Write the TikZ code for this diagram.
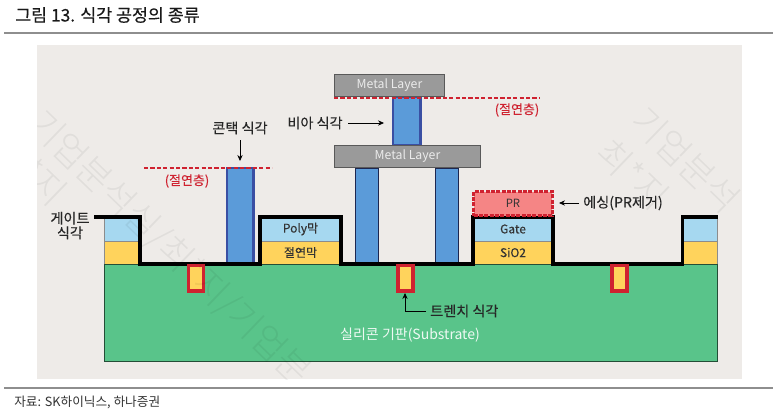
\documentclass[tikz,border=0pt]{standalone}
\usepackage{fontspec}
\setmainfont{Noto Sans CJK KR}
\newfontfamily\wmfont{Noto Sans CJK KR Light}
\newfontfamily\lblfont[FakeBold=0.25]{Noto Sans CJK KR}
\usetikzlibrary{arrows.meta}
\definecolor{panel}{HTML}{EEEBE8}
\definecolor{rulegray}{HTML}{8E8E8E}
\definecolor{subgreen}{HTML}{59C48A}
\definecolor{lightb}{HTML}{A6D8F0}
\definecolor{yel}{HTML}{FFD35C}
\definecolor{metal}{HTML}{9A9A9A}
\definecolor{pillar}{HTML}{5B9BD9}
\definecolor{darkb}{HTML}{3A4FA3}
\definecolor{redd}{HTML}{CF2230}
\definecolor{prfill}{HTML}{F58585}
\tikzset{x=0.75pt,y=-0.75pt,
  lbl/.style={font=\lblfont\fontsize{10.6}{12}\selectfont,text=black!85,inner sep=0pt,align=center},
  inlbl/.style={font=\lblfont\fontsize{9}{11}\selectfont,text=black!80,inner sep=0pt},
  redlbl/.style={font=\lblfont\fontsize{9.7}{11}\selectfont,text=redd,inner sep=0pt},
  redline/.style={redd,line width=1.5pt,dash pattern=on 3.2pt off 1.6pt},
  gateline/.style={black,line width=2.6pt,line join=miter},
  arrowline/.style={black,line width=0.6pt,-{Stealth[length=4.5pt,width=4pt]}},
  trench/.style={draw=redd,line width=2.3pt,fill=yel},
  metalbox/.style={draw=black!65,line width=0.7pt,fill=metal,text=white!92!black,inner sep=0pt,font=\fontsize{9.2}{10}\selectfont},
  wmtext/.style={font=\wmfont\fontsize{27}{30}\selectfont,text=black,opacity=0.055,inner sep=0pt,rotate=-44}}
\begin{document}
\begin{tikzpicture}
\useasboundingbox (0,0) rectangle (773,415);
\fill[white] (0,0) rectangle (773,415);
\node[anchor=west,inner sep=0pt,font=\lblfont\fontsize{13}{15}\selectfont,text=black!90] (title) at (15,15) {그림 13. 식각 공정의 종류};
\fill[rulegray] (4,32) rectangle (773,34);
\fill[panel] (37,45) rectangle (742,379);
\fill[rulegray] (4,387.3) rectangle (773,388.7);
\node[anchor=west,inner sep=0pt,font=\fontsize{9.5}{11}\selectfont,text=black!80] (src) at (14,402) {자료: SK하이닉스, 하나증권};
% substrate
\draw[fill=subgreen,draw=black!60!subgreen,line width=0.6pt] (104,264) rectangle (717.5,361);
\node[inner sep=0pt,text=white!90!subgreen,font=\fontsize{10.5}{12}\selectfont] (sub) at (410,335) {실리콘 기판(Substrate)};
% stacks
\fill[lightb] (104,217) rectangle (140,241);
\fill[yel] (104,241) rectangle (140,264);
\fill[lightb] (682,217) rectangle (717.5,241);
\fill[yel] (682,241) rectangle (717.5,264);
\draw[black!45,line width=0.5pt] (104,217) -- (104,264) (104,241) -- (140,241) (682,241) -- (717.5,241) (717.5,217) -- (717.5,264);
\node[inlbl,fill=lightb,minimum width=60pt,minimum height=18pt] (poly) at (300.5,229) {Poly막};
\node[inlbl,fill=yel,minimum width=60pt,minimum height=17.25pt] (ins) at (300.5,252.5) {절연막};
\node[inlbl,fill=lightb,minimum width=60pt,minimum height=18pt] (gate) at (513,229) {Gate};
\node[inlbl,fill=yel,minimum width=60pt,minimum height=17.25pt] (sio) at (513,252.5) {SiO2};
\draw[black!45,line width=0.5pt] (poly.south west) -- (poly.south east) (gate.south west) -- (gate.south east);
% pillars
\draw[fill=pillar,draw=darkb,line width=2.2pt] (227,168) rectangle (253.5,264);
\draw[fill=pillar,draw=black!50!darkb,line width=0.6pt] (355.5,168) rectangle (378,264);
\draw[fill=pillar,draw=black!50!darkb,line width=0.6pt] (435.5,168) rectangle (458,264);
\draw[fill=pillar,draw=darkb,line width=2.2pt] (393,97) rectangle (420.5,145);
% metal
\node[metalbox,minimum width=83pt,minimum height=17pt] (m1) at (389.5,85.5) {Metal Layer};
\node[metalbox,minimum width=110pt,minimum height=17pt] (m2) at (407.5,156.5) {Metal Layer};
% red dashed
\draw[redline] (334,98) -- (540,98);
\draw[redline] (144,168) -- (272,168);
\node[redlbl] (r1) at (517,110) {(절연층)};
\node[redlbl] (r2) at (187,181) {(절연층)};
% gate line
\draw[gateline] (94,217) -- (140,217) -- (140,264) -- (260,264) -- (260,217) -- (341,217) -- (341,264) -- (473,264) -- (473,217) -- (553,217) -- (553,264) -- (682.5,264) -- (682.5,217) -- (718,217);
% PR
\node[fill=prfill,draw=redd,line width=2.2pt,dash pattern=on 3pt off 1pt,minimum width=59pt,minimum height=18pt,inner sep=0pt,font=\fontsize{8.5}{10}\selectfont,text=black!80] (pr) at (513,203.5) {PR};
% trenches
\draw[trench] (188.5,265.5) rectangle (203.5,291);
\draw[trench] (398,265.5) rectangle (413,291);
\draw[trench] (612,265.5) rectangle (627,291);
\coordinate (tr2) at (405,293);
% labels
\node[lbl] (gl) at (70,225.5) {게이트\\[-1pt]식각};
\node[lbl] (cl) at (240,128) {콘택 식각};
\node[lbl] (vl) at (315,123) {비아 식각};
\node[lbl,anchor=west] (al) at (583,203) {에싱(PR제거)};
\node[lbl,anchor=west] (tl) at (430,311) {트렌치 식각};
\draw[arrowline] (cl.south |- 0,140) -- (240,161);
\draw[arrowline] (vl.east) ++(4pt,0) -- (384,123);
\draw[arrowline] (al.west) ++(-3pt,0) -- (559,203);
\draw[arrowline] (tl.west) ++(-3pt,0) -| (tr2);
% watermark
\begin{scope}
\clip (37,45) rectangle (742,379);
\node[wmtext,anchor=west] (wa) at (34,118) {기업분석실/최*지/기업분};
\node[wmtext,anchor=east] (wc) at (61,199) {*지};
\node[wmtext,anchor=west] (wb) at (638,114) {기업분석};
\node[wmtext,anchor=west] (wd) at (603,146) {최*지};
\end{scope}
\end{tikzpicture}
\end{document}
